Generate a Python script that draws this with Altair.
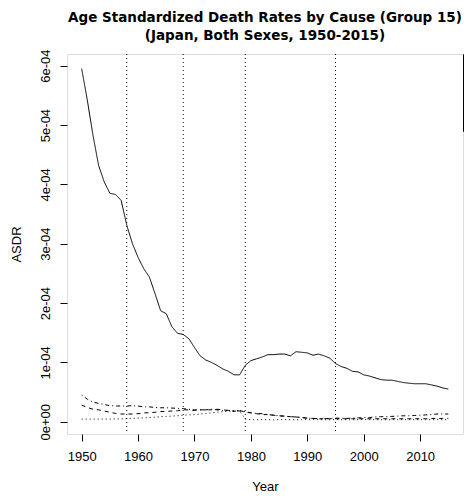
import altair as alt
import pandas as pd

years = list(range(1950, 2016))

# ASDR values in units of 1e-4
solid_e4 = [5.95, 5.42, 4.83, 4.32, 4.04, 3.85, 3.83, 3.73, 3.31, 3.00,
            2.77, 2.58, 2.44, 2.16, 1.87, 1.82, 1.60, 1.49, 1.47, 1.40,
            1.25, 1.11, 1.04, 1.00, 0.95, 0.89, 0.85, 0.79, 0.79, 0.95,
            1.03, 1.06, 1.09, 1.13, 1.13, 1.14, 1.14, 1.11, 1.18, 1.17,
            1.16, 1.12, 1.14, 1.11, 1.07, 0.98, 0.93, 0.90, 0.85, 0.84,
            0.79, 0.77, 0.74, 0.71, 0.70, 0.70, 0.68, 0.66, 0.65, 0.64,
            0.64, 0.64, 0.62, 0.60, 0.57, 0.55]
dashed_e4 = [0.28, 0.24, 0.21, 0.20, 0.18, 0.16, 0.14, 0.13, 0.13, 0.13,
             0.135, 0.15, 0.15, 0.16, 0.17, 0.175, 0.18, 0.185, 0.20, 0.20,
             0.19, 0.20, 0.20, 0.20, 0.21, 0.20, 0.19, 0.175, 0.19, 0.16,
             0.15, 0.135, 0.12, 0.12, 0.11, 0.10, 0.09, 0.085, 0.08, 0.07,
             0.06, 0.056, 0.05, 0.05, 0.05, 0.05, 0.05, 0.05, 0.05, 0.05,
             0.05, 0.05, 0.05, 0.05, 0.05, 0.05, 0.05, 0.05, 0.05, 0.05,
             0.05, 0.05, 0.055, 0.055, 0.056, 0.056]
dotted_e4 = [0.045, 0.045, 0.045, 0.045, 0.045, 0.045, 0.047, 0.048, 0.05, 0.055,
             0.06, 0.065, 0.07, 0.077, 0.085, 0.09, 0.095, 0.10, 0.11, 0.115,
             0.12, 0.13, 0.14, 0.15, 0.16, 0.17, 0.175, 0.18, 0.18, 0.045,
             0.034, 0.034, 0.035, 0.034, 0.033, 0.034, 0.035, 0.034, 0.033, 0.034,
             0.034, 0.035, 0.034, 0.033, 0.034, 0.035, 0.034, 0.034, 0.033, 0.034,
             0.035, 0.034, 0.034, 0.033, 0.034, 0.034, 0.035, 0.034, 0.034, 0.034,
             0.035, 0.034, 0.034, 0.035, 0.034, 0.034]
dotdash_e4 = [0.45, 0.38, 0.33, 0.31, 0.29, 0.27, 0.265, 0.265, 0.265, 0.27,
              0.265, 0.25, 0.25, 0.24, 0.235, 0.235, 0.23, 0.225, 0.22, 0.21,
              0.20, 0.20, 0.20, 0.21, 0.20, 0.19, 0.19, 0.19, 0.18, 0.17,
              0.15, 0.14, 0.135, 0.12, 0.11, 0.10, 0.095, 0.085, 0.08, 0.07,
              0.06, 0.056, 0.05, 0.05, 0.056, 0.06, 0.06, 0.056, 0.06, 0.065,
              0.07, 0.07, 0.08, 0.085, 0.085, 0.09, 0.095, 0.10, 0.10, 0.105,
              0.11, 0.115, 0.12, 0.13, 0.13, 0.13]

series_names = ["Cause A", "Cause B", "Cause C", "Cause D"]
series_dash = [[1, 0], [4, 4], [1, 3], [1, 3, 4, 3]]

icd_years = [1958, 1968, 1979, 1995]

x_ticks = [1950, 1960, 1970, 1980, 1990, 2000, 2010]
y_ticks = [0, 0.0001, 0.0002, 0.0003, 0.0004, 0.0005, 0.0006]
y_tick_labels = ["0e+00", "1e-04", "2e-04", "3e-04", "4e-04", "5e-04", "6e-04"]

rows = []
for name, vals in zip(series_names, [solid_e4, dashed_e4, dotted_e4, dotdash_e4]):
    for yr, v in zip(years, vals):
        rows.append({"Year": yr, "ASDR": v * 1e-4, "Cause": name})
df = pd.DataFrame(rows)
icd_df = pd.DataFrame({"Year": icd_years})

label_expr = " : ".join(
    [f"round(datum.value*1e5) == {round(v*1e5)} ? '{l}'" for v, l in zip(y_ticks, y_tick_labels)]
) + " : ''"

FONT = "Liberation Sans"

xscale = alt.Scale(domain=[1947.4, 2017.6], nice=False, zero=False)
yscale = alt.Scale(domain=[-0.0000207, 0.0006197], nice=False, zero=False)

lines = alt.Chart(df).mark_line(strokeWidth=1, color="black").encode(
    x=alt.X("Year:Q", scale=xscale,
            axis=alt.Axis(values=x_ticks, format="d", title="Year", grid=False,
                          domain=False, tickSize=7, tickColor="black",
                          labelPadding=9, labelFontSize=13, labelColor="black",
                          labelFont=FONT, titleFont=FONT, titleFontSize=13,
                          titleFontWeight="normal", titleColor="black",
                          titlePadding=17, labelFlush=False)),
    y=alt.Y("ASDR:Q", scale=yscale,
            axis=alt.Axis(values=y_ticks, labelExpr=label_expr, title="ASDR", grid=False,
                          domain=False, tickSize=7, tickColor="black",
                          labelAngle=270, labelPadding=8, labelFontSize=13,
                          labelColor="black", labelFont=FONT, titleFont=FONT,
                          titleFontSize=13, titleFontWeight="normal",
                          titleColor="black", titlePadding=16, labelFlush=False)),
    strokeDash=alt.StrokeDash(
        "Cause:N",
        scale=alt.Scale(domain=series_names, range=series_dash),
        legend=alt.Legend(orient="none", legendX=396, legendY=0, title=None,
                          symbolType="stroke", symbolStrokeColor="black",
                          symbolStrokeWidth=1, symbolSize=144, symbolOffset=-7,
                          strokeColor="black", fillColor="white", padding=9,
                          rowPadding=2.5, labelFontSize=12, labelFont=FONT,
                          labelColor="black"),
    ),
    detail="Cause:N",
)

rules = alt.Chart(icd_df).mark_rule(color="black", strokeWidth=1, strokeDash=[1, 3]).encode(
    x=alt.X("Year:Q", scale=xscale)
)

chart = alt.layer(rules, lines).properties(
    width=396,
    height=380,
    title=alt.TitleParams(
        text=["Age Standardized Death Rates by Cause (Group 15)",
              "(Japan, Both Sexes, 1950-2015)"],
        fontSize=13.5, fontWeight="bold", font="DejaVu Sans", color="black",
        anchor="middle", offset=7, lineHeight=18, frame="group",
    ),
    autosize=alt.AutoSizeParams(type="none"),
    padding={"left": 59, "top": 46, "right": 1, "bottom": 60},
).configure_view(stroke="black", strokeWidth=1).configure(background="white")

chart.save("out.html", embed_options={"renderer": "svg", "actions": False})
